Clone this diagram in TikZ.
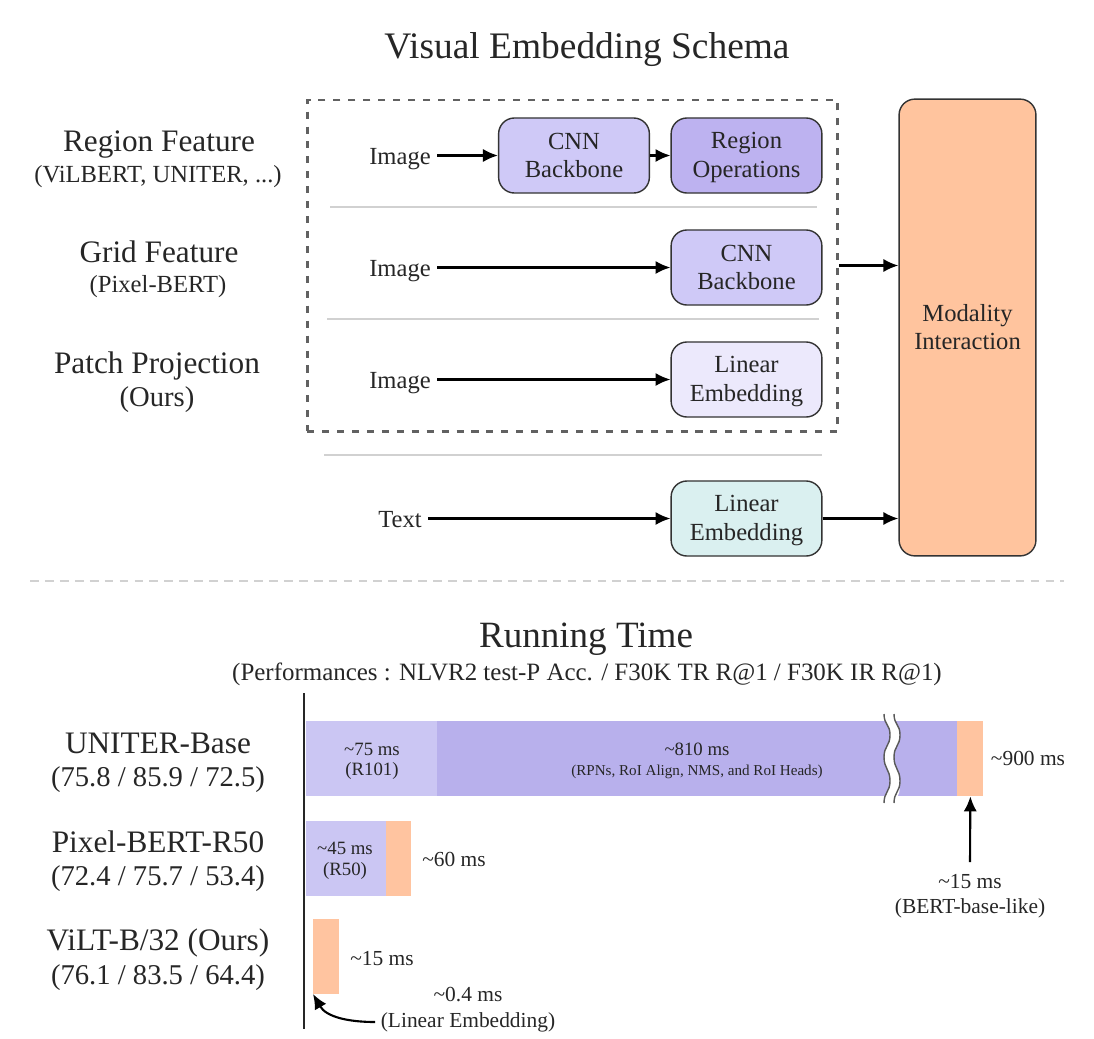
\documentclass[tikz,border=0pt]{standalone}
\usepackage{fontspec}
\setmainfont{Liberation Serif}
\usetikzlibrary{arrows.meta}
\definecolor{cnncol}{HTML}{CFC9F7}
\definecolor{regioncol}{HTML}{BDB2F0}
\definecolor{lincol}{HTML}{ECE9FC}
\definecolor{txtcol}{HTML}{DAF0F0}
\definecolor{modcol}{HTML}{FFC49E}
\definecolor{barlight}{HTML}{CBC6F3}
\definecolor{bardark}{HTML}{B8B0EC}
\definecolor{barorange}{HTML}{FFC4A0}
\definecolor{inktext}{HTML}{262626}
\newcommand{\bxs}{\rule[-2.9pt]{0pt}{14.9pt}}
\tikzset{
  box/.style={draw=black!80,line width=0.8pt,rounded corners=9pt,minimum width=85.8pt,minimum height=42.7pt,inner sep=0pt,align=center,text=inktext,font=\fontsize{14}{16.5}\selectfont},
  modbox/.style={draw=black!80,line width=0.8pt,rounded corners=9pt,fill=modcol,align=center,text=inktext,font=\fontsize{14}{16.5}\selectfont},
  lbl/.style={text=inktext,inner sep=3.5pt,font=\fontsize{14}{16.5}\selectfont},
  biglbl/.style={text=inktext,inner sep=0pt,font=\fontsize{17.8}{20}\selectfont},
  sublbl/.style={text=inktext,inner sep=0pt,font=\fontsize{14}{16}\selectfont},
  numlbl/.style={text=inktext,inner sep=0pt,font=\fontsize{16.3}{19}\selectfont},
  timelbl/.style={text=inktext,inner sep=0pt,font=\fontsize{12.2}{14}\selectfont},
  barlbl/.style={text=inktext,inner sep=0pt,font=\fontsize{10.7}{12}\selectfont},
  arr/.style={line width=1.2pt,black,-{Latex[length=8.5pt,width=7.5pt]}},
  sep/.style={line width=1.5pt,black!18},
  bar/.style={inner sep=0pt,minimum height=42.7pt,anchor=west},
}
\begin{document}
\begin{tikzpicture}[x=0.02cm,y=-0.02cm]
\useasboundingbox (0,0) rectangle (1094,1038);
\node[inner sep=0pt,text=inktext,font=\fontsize{21.3}{24}\selectfont] (vistitle) at (587,50) {Visual Embedding Schema};

\node[biglbl] (regionlbl) at (159,145) {Region Feature};
\node[sublbl] (regionsub) at (158,177) {(ViLBERT, UNITER, ...)};
\node[biglbl] (gridlbl) at (159,252) {Grid Feature};
\node[sublbl] (gridsub) at (158,287) {(Pixel-BERT)};
\node[biglbl] (patchlbl) at (157,366) {Patch Projection};
\node[numlbl] (patchsub) at (157,400) {(Ours)};

\node[draw=black!62,line width=1.7pt,minimum width=302pt,minimum height=188.4pt,inner sep=0pt,
  dash pattern=on 4pt off 4.5pt] (dashbox) at (572.5,265.5) {};

\node[box,fill=cnncol] (cnna) at (574,155.5) {\bxs CNN\\\bxs Backbone};
\node[box,fill=regioncol] (regionop) at (746.5,155.5) {\bxs Region\\\bxs Operations};
\node[box,fill=cnncol] (cnnb) at (746.5,267.5) {\bxs CNN\\\bxs Backbone};
\node[box,fill=lincol] (linimg) at (746.5,379.5) {\bxs Linear\\\bxs Embedding};
\node[box,fill=txtcol] (lintxt) at (746.5,518.5) {\bxs Linear\\\bxs Embedding};
\node[modbox,minimum width=77.9pt,minimum height=260pt,inner sep=0pt] (modality) at (967.5,327.5) {\bxs Modality\\\bxs Interaction};

\node[lbl] (imga) at (400,159) {Image};
\node[lbl] (imgb) at (400,271) {Image};
\node[lbl] (imgc) at (400,383) {Image};
\node[lbl] (txtin) at (400,520) {Text};

\draw[arr] (imga.east |- cnna.west) -- (cnna.west);
\draw[arr] (cnna.east) -- (regionop.west);
\draw[arr] (imgb.east |- cnnb.west) -- (cnnb.west);
\draw[arr] (imgc.east |- linimg.west) -- (linimg.west);
\draw[arr] (txtin.east |- lintxt.west) -- (lintxt.west);
\draw[arr] (dashbox.east) -- (dashbox.east -| modality.west);
\draw[arr] (lintxt.east) -- (lintxt.east -| modality.west);

\draw[sep] (330,207) -- (817,207);
\draw[sep] (327,319) -- (819,319);
\draw[sep] (324,455) -- (822,455);
\draw[sep,dash pattern=on 5pt off 3.5pt] (30,581) -- (1064,581);

\node[inner sep=0pt,text=inktext,font=\fontsize{21.1}{24}\selectfont] (runtitle) at (586,639) {Running Time};
\node[inner sep=0pt,text=inktext,font=\fontsize{14.2}{16}\selectfont] (runsub) at (587,674) {(Performances : NLVR2 test-P Acc. / F30K TR R@1 / F30K IR R@1)};

\node[biglbl] (uniter) at (158,743) {UNITER-Base};
\node[numlbl] (uniternum) at (158,780) {(75.8 / 85.9 / 72.5)};
\node[biglbl] (pixel) at (158,842) {Pixel-BERT-R50};
\node[numlbl] (pixelnum) at (158,879) {(72.4 / 75.7 / 53.4)};
\node[biglbl] (vilt) at (158,943) {ViLT-B/32 (Ours)};
\node[numlbl] (viltnum) at (158,978) {(76.1 / 83.5 / 64.4)};

\node[bar,fill=barlight,minimum width=74.6pt] (ua) at (306,758.5) {};
\node[bar,fill=bardark,minimum width=296.2pt] (ub) at (437,758.5) {};
\node[bar,fill=barorange,minimum width=14.8pt] (uc) at (957,758.5) {};
\node[bar,fill=barlight,minimum width=45.5pt] (pa) at (306,858.5) {};
\node[bar,fill=barorange,minimum width=14.2pt] (pb) at (386,858.5) {};
\node[bar,fill=barorange,minimum width=14.8pt] (va) at (313,956.5) {};

% axis break
\fill[white] (884,714) .. controls (884,725) and (890,724) .. (890,735) .. controls (890,746) and (884,746) .. (884,757) .. controls (884,769) and (890,769) .. (890,781) .. controls (890,792) and (884,792) .. (884,803)
  -- (894,803) .. controls (900,792) and (900,792) .. (900,781) .. controls (900,769) and (894,769) .. (894,757) .. controls (894,746) and (900,746) .. (900,735) .. controls (900,724) and (894,725) .. (894,714) -- cycle;
\foreach \dx in {0,10}
  \draw[black!65,line width=0.8pt,xshift=\dx*0.02cm] (884,714) .. controls (884,725) and (890,724) .. (890,735) .. controls (890,746) and (884,746) .. (884,757) .. controls (884,769) and (890,769) .. (890,781) .. controls (890,792) and (884,792) .. (884,803);

\draw[line width=1.5pt,black!85] (304,693) -- (304,1029);

\node[barlbl] (uat) at (372,749) {\textasciitilde75 ms};
\node[barlbl] (uas) at (372,771) {(R101)};
\node[barlbl] (ubt) at (697,749) {\textasciitilde810 ms};
\node[text=inktext,inner sep=0pt,font=\fontsize{8.6}{10}\selectfont] (ubs) at (697,772) {(RPNs, RoI Align, NMS, and RoI Heads)};
\node[timelbl] (utot) at (1028,758) {\textasciitilde900 ms};
\node[barlbl] (pat) at (345,848) {\textasciitilde45 ms};
\node[barlbl] (pas) at (345,871) {(R50)};
\node[timelbl] (ptot) at (454,859) {\textasciitilde60 ms};
\node[timelbl] (vtot) at (382,959) {\textasciitilde15 ms};
\node[timelbl] (linms) at (468,995) {\textasciitilde0.4 ms};
\node[timelbl,inner sep=3pt] (linname) at (468,1022) {(Linear Embedding)};
\node[timelbl] (bertms) at (970,882) {\textasciitilde15 ms};
\node[timelbl] (bertname) at (970,908) {(BERT-base-like)};
\coordinate (bertarr) at (970,862);
\coordinate (linarr) at (313,994);

\draw[arr] (bertarr) -- (uc.south);
\draw[arr] (linname.west) to[out=180,in=-60] (linarr);
\end{tikzpicture}
\end{document}
